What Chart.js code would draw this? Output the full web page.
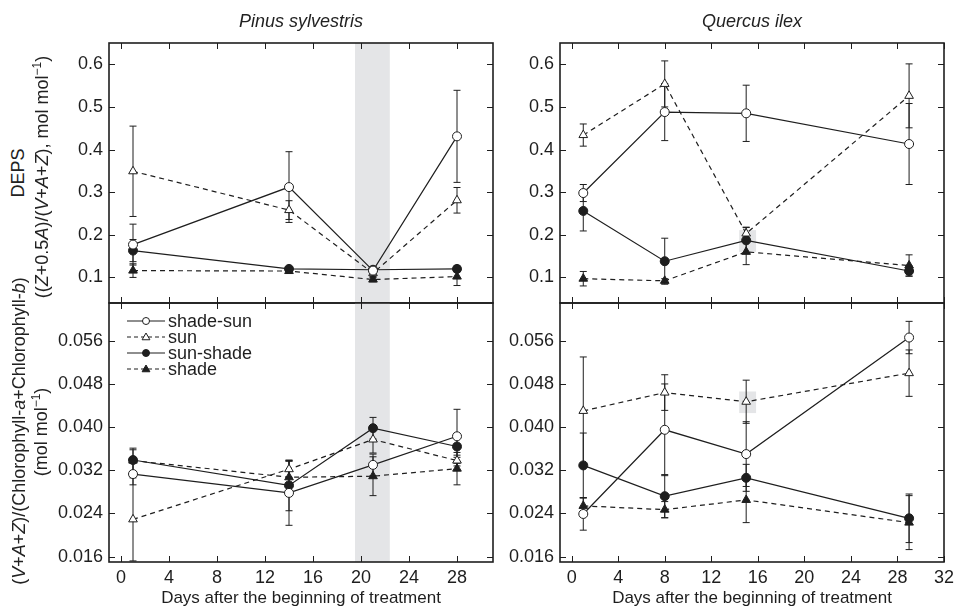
<!DOCTYPE html>
<html>
<head>
<meta charset="utf-8">
<script src="https://cdn.jsdelivr.net/npm/chart.js@4.4.1/dist/chart.umd.min.js"></script>
<style>
html, body { margin: 0; padding: 0; background: #fff; overflow: hidden; }
#wrap { position: relative; width: 955px; height: 609px; }
canvas { position: absolute; }
.lbl { position: absolute; font-family: 'Liberation Sans', Arial, sans-serif; font-size: 18px; color: #222;
       white-space: nowrap; line-height: 1; transform: translate(-50%, -50%); }
.rot { transform: translate(-50%, -50%) rotate(-90deg); }
.lbl sup { font-size: 12px; line-height: 0; }
</style>
</head>
<body>
<div id="wrap">
  <canvas id="tl"></canvas>
  <canvas id="tr"></canvas>
  <canvas id="bl"></canvas>
  <canvas id="br"></canvas>
  <div class="lbl" style="left:301px;top:21px;font-style:italic">Pinus sylvestris</div>
  <div class="lbl" style="left:752px;top:21px;font-style:italic">Quercus ilex</div>
  <div class="lbl rot" style="left:18px;top:173px">DEPS</div>
  <div class="lbl rot" style="left:42px;top:177px">((<i>Z</i>+0.5<i>A</i>)/(<i>V</i>+<i>A</i>+<i>Z</i>), mol mol<sup>−1</sup>)</div>
  <div class="lbl rot" style="left:19px;top:431px">(<i>V</i>+<i>A</i>+<i>Z</i>)/(Chlorophyll-<i>a</i>+Chlorophyll-<i>b</i>)</div>
  <div class="lbl rot" style="left:41px;top:432px">(mol mol<sup>−1</sup>)</div>
</div>
<script>
// series order: shade-sun, sun, sun-shade, shade
const seriesNames = ["shade-sun", "sun", "sun-shade", "shade"];

const pinusDays = [1, 14, 21, 28];
const quercusDays = [1, 8, 15, 29];

const pinusXTicks = [0, 4, 8, 12, 16, 20, 24, 28];
const quercusXTicks = [0, 4, 8, 12, 16, 20, 24, 28, 32];
const depsTicks = [0.1, 0.2, 0.3, 0.4, 0.5, 0.6];
const vazTicks = [0.016, 0.024, 0.032, 0.040, 0.048, 0.056];

// DEPS, Pinus sylvestris
const pinusDeps = [
    [0.177, 0.312, 0.116, 0.431],
    [0.349, 0.258, 0.110, 0.281],
    [0.163, 0.120, 0.118, 0.120],
    [0.116, 0.115, 0.095, 0.102]
];
const pinusDepsErr = [
    [0.048, 0.083, 0.008, 0.108],
    [0.106, 0.022, 0.008, 0.030],
    [0.026, 0.005, 0.006, 0.007],
    [0.016, 0.005, 0.005, 0.021]
];

// DEPS, Quercus ilex
const quercusDeps = [
    [0.298, 0.488, 0.485, 0.413],
    [0.434, 0.554, 0.203, 0.526],
    [0.256, 0.138, 0.187, 0.115],
    [0.097, 0.092, 0.160, 0.128]
];
const quercusDepsErr = [
    [0.020, 0.067, 0.066, 0.095],
    [0.026, 0.054, 0.015, 0.075],
    [0.047, 0.054, 0.030, 0.012],
    [0.017, 0.005, 0.030, 0.025]
];

// (V+A+Z)/Chl, Pinus sylvestris
const pinusVaz = [
    [0.0313, 0.0278, 0.0330, 0.0383],
    [0.0229, 0.0322, 0.0377, 0.0338],
    [0.0339, 0.0292, 0.0398, 0.0364],
    [0.0338, 0.0307, 0.0309, 0.0323]
];
const pinusVazErr = [
    [0.0020, 0.0060, 0.0020, 0.0050],
    [0.0077, 0.0015, 0.0025, 0.0010],
    [0.0022, 0.0047, 0.0020, 0.0020],
    [0.0020, 0.0030, 0.0036, 0.0030]
];

// (V+A+Z)/Chl, Quercus ilex
const quercusVaz = [
    [0.0239, 0.0395, 0.0350, 0.0566],
    [0.0430, 0.0464, 0.0447, 0.0500],
    [0.0329, 0.0272, 0.0306, 0.0231],
    [0.0254, 0.0247, 0.0265, 0.0223]
];
const quercusVazErr = [
    [0.0030, 0.0085, 0.0060, 0.0030],
    [0.0100, 0.0033, 0.0040, 0.0043],
    [0.0060, 0.0040, 0.0025, 0.0045],
    [0.0015, 0.0015, 0.0042, 0.0050]
];

// highlighted periods: [dayFrom, dayTo] or [dayFrom, dayTo, yLow, yHigh]
const pinusBand = [19.5, 22.4];
const quercusDepsBox = [14.4, 15.85, 0.160, 0.211];
const quercusVazBox = [14.4, 15.85, 0.0426, 0.0466];

const INK = "#1e1e1e";
const FONT = "'Liberation Sans', Arial, Helvetica, sans-serif";
const seriesMarker = ["circle", "triangle", "circle", "triangle"];
const seriesFilled = [false, false, true, true];
const seriesDashed = [false, true, false, true];

Chart.defaults.font.family = FONT;
Chart.defaults.color = INK;

function marker(ctx, style, filled, x, y, r) {
    ctx.beginPath();
    if (style === "circle") {
        ctx.arc(x, y, r, 0, Math.PI * 2);
    } else {
        ctx.moveTo(x, y - r);
        ctx.lineTo(x + r * 0.866, y + r * 0.5);
        ctx.lineTo(x - r * 0.866, y + r * 0.5);
        ctx.closePath();
    }
    ctx.fillStyle = filled ? INK : "#fff";
    ctx.fill();
    ctx.lineWidth = 1;
    ctx.strokeStyle = INK;
    ctx.setLineDash([]);
    ctx.stroke();
}

const panelDecor = {
    id: "panelDecor",
    beforeDatasetsDraw(chart, args, opts) {
        const { ctx, chartArea: a, scales: { x, y } } = chart;
        ctx.save();
        // grey shading
        ctx.fillStyle = "#e4e5e7";
        (opts.shades || []).forEach(s => {
            const x0 = x.getPixelForValue(s[0]), x1 = x.getPixelForValue(s[1]);
            const y0 = s.length > 2 ? y.getPixelForValue(s[3]) : a.top;
            const y1 = s.length > 2 ? y.getPixelForValue(s[2]) : a.bottom;
            ctx.fillRect(x0, y0, x1 - x0, y1 - y0);
        });
        // error bars
        ctx.strokeStyle = INK;
        ctx.lineWidth = 1;
        chart.data.datasets.forEach(ds => {
            ds.data.forEach((p, i) => {
                const e = ds.errors[i];
                const px = x.getPixelForValue(p.x);
                const top = y.getPixelForValue(p.y + e);
                const bot = y.getPixelForValue(p.y - e);
                ctx.beginPath();
                ctx.moveTo(px, top); ctx.lineTo(px, bot);
                ctx.moveTo(px - 3.5, top); ctx.lineTo(px + 3.5, top);
                ctx.moveTo(px - 3.5, bot); ctx.lineTo(px + 3.5, bot);
                ctx.stroke();
            });
        });
        ctx.restore();
    },
    afterDraw(chart, args, opts) {
        const { ctx, chartArea: a, scales: { x, y } } = chart;
        ctx.save();
        ctx.strokeStyle = INK;
        ctx.lineWidth = 1;
        // inner tick marks on all four sides
        ctx.beginPath();
        x.ticks.forEach(t => {
            const px = Math.round(x.getPixelForValue(t.value)) + 0.5;
            ctx.moveTo(px, a.bottom); ctx.lineTo(px, a.bottom - 6);
            ctx.moveTo(px, a.top); ctx.lineTo(px, a.top + 6);
        });
        y.ticks.forEach(t => {
            const py = Math.round(y.getPixelForValue(t.value)) + 0.5;
            ctx.moveTo(a.left, py); ctx.lineTo(a.left + 6, py);
            ctx.moveTo(a.right, py); ctx.lineTo(a.right - 6, py);
        });
        ctx.stroke();
        // frame
        ctx.lineWidth = 1.6;
        ctx.strokeRect(a.left, a.top, a.right - a.left, a.bottom - a.top);

        if (opts.legend) {
            ctx.font = "18px " + FONT;
            ctx.textBaseline = "middle";
            ctx.textAlign = "left";
            seriesNames.forEach((name, i) => {
                const ly = a.top + 18 + i * 16;
                ctx.beginPath();
                ctx.lineWidth = 1.2;
                ctx.strokeStyle = INK;
                ctx.setLineDash(seriesDashed[i] ? [4, 3] : []);
                ctx.moveTo(a.left + 18, ly); ctx.lineTo(a.left + 56, ly);
                ctx.stroke();
                marker(ctx, seriesMarker[i], seriesFilled[i], a.left + 37, ly + (seriesMarker[i] === "triangle" ? 0.5 : 0),
                       seriesMarker[i] === "triangle" ? 4.5 : 3.5);
                ctx.fillStyle = INK;
                ctx.fillText(name, a.left + 59, ly + 1);
            });
        }
        ctx.restore();
    }
};

function makePanel(id, box, days, vals, errs, xMax, xTicks, yMin, yMax, yTicks, dec, showX, shades, legend) {
    const pad = 20, yW = 60, xH = 609 - box.b;
    const cv = document.getElementById(id);
    cv.width = box.r - box.l + yW + 2 * pad;
    cv.height = box.b - box.t + pad + (showX ? xH : pad);
    cv.style.left = (box.l - yW - pad) + "px";
    cv.style.top = (box.t - pad) + "px";

    const datasets = seriesNames.map((name, i) => ({
        label: name,
        data: days.map((d, j) => ({ x: d, y: vals[i][j] })),
        errors: errs[i],
        borderColor: INK,
        borderWidth: 1.2,
        borderDash: seriesDashed[i] ? [5, 4] : [],
        pointStyle: seriesMarker[i],
        pointRadius: seriesMarker[i] === "triangle" ? 5 : 4.5,
        pointBackgroundColor: seriesFilled[i] ? INK : "#fff",
        pointBorderColor: INK,
        pointBorderWidth: 1,
        tension: 0,
        fill: false,
        clip: false
    }));

    new Chart(cv, {
        type: "line",
        data: { datasets },
        options: {
            responsive: false,
            animation: false,
            devicePixelRatio: 1,
            layout: { padding: { left: pad, right: pad, top: pad, bottom: showX ? 0 : pad } },
            plugins: {
                legend: { display: false },
                tooltip: { enabled: false },
                panelDecor: { shades, legend }
            },
            scales: {
                x: {
                    type: "linear", min: -1, max: xMax, display: showX,
                    afterBuildTicks: s => { s.ticks = xTicks.map(v => ({ value: v })); },
                    afterFit: s => { s.height = showX ? xH : 0; },
                    grid: { display: false, drawTicks: false },
                    border: { display: false },
                    ticks: { padding: 5, autoSkip: false, maxRotation: 0, color: INK, font: { size: 18 },
                             callback: v => String(v) },
                    title: { display: true, text: "Days after the beginning of treatment", color: INK,
                             font: { size: 17 }, padding: { top: 0, bottom: 0 } }
                },
                y: {
                    type: "linear", min: yMin, max: yMax,
                    afterBuildTicks: s => { s.ticks = yTicks.map(v => ({ value: v })); },
                    afterFit: s => { s.width = yW; },
                    grid: { display: false, drawTicks: false },
                    border: { display: false },
                    ticks: { padding: 6, autoSkip: false, color: INK, font: { size: 18 },
                             callback: v => v.toFixed(dec) }
                }
            }
        },
        plugins: [panelDecor]
    });
}

makePanel("tl", { l: 109, t: 43, r: 493, b: 303 }, pinusDays, pinusDeps, pinusDepsErr,
          31, pinusXTicks, 0.04, 0.65, depsTicks, 1, false, [pinusBand], false);
makePanel("tr", { l: 560, t: 43, r: 944, b: 303 }, quercusDays, quercusDeps, quercusDepsErr,
          32, quercusXTicks, 0.04, 0.65, depsTicks, 1, false, [quercusDepsBox], false);
makePanel("bl", { l: 109, t: 303, r: 493, b: 562 }, pinusDays, pinusVaz, pinusVazErr,
          31, pinusXTicks, 0.015, 0.063, vazTicks, 3, true, [pinusBand], true);
makePanel("br", { l: 560, t: 303, r: 944, b: 562 }, quercusDays, quercusVaz, quercusVazErr,
          32, quercusXTicks, 0.015, 0.063, vazTicks, 3, true, [quercusVazBox], false);
</script>
</body>
</html>
